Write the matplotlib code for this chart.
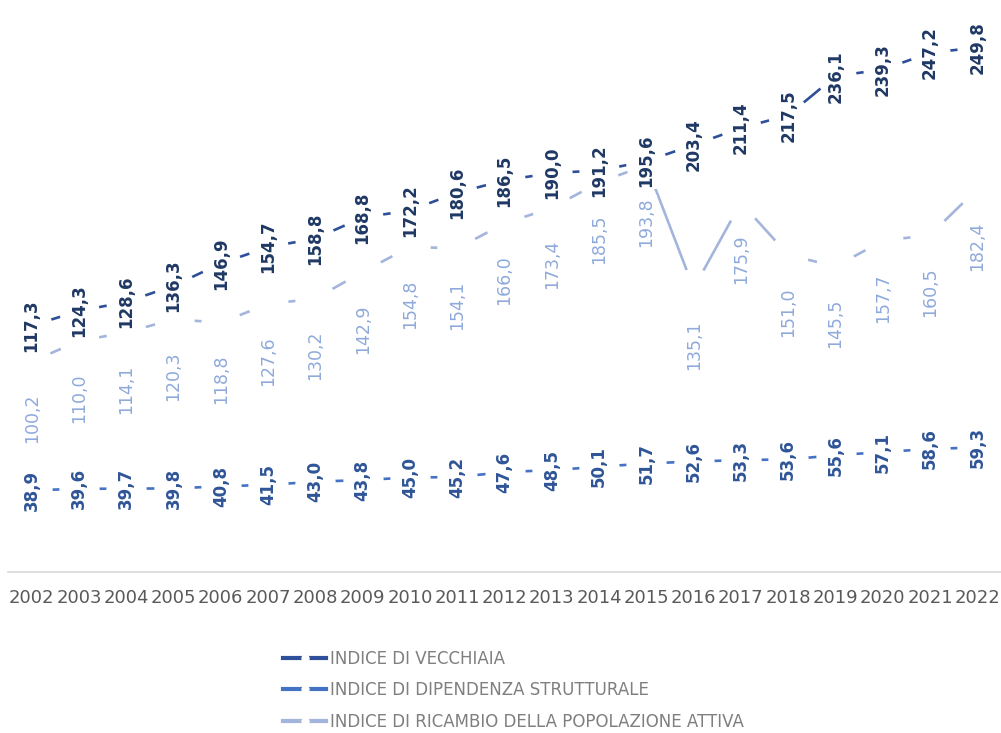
import numpy as np
import matplotlib.pyplot as plt
from matplotlib.lines import Line2D

# data
anni = [str(a) for a in range(2002, 2023)]
vecchiaia = [117.3, 124.3, 128.6, 136.3, 146.9, 154.7, 158.8, 168.8, 172.2, 180.6,
             186.5, 190.0, 191.2, 195.6, 203.4, 211.4, 217.5, 236.1, 239.3, 247.2, 249.8]
dipendenza = [38.9, 39.6, 39.7, 39.8, 40.8, 41.5, 43.0, 43.8, 45.0, 45.2,
              47.6, 48.5, 50.1, 51.7, 52.6, 53.3, 53.6, 55.6, 57.1, 58.6, 59.3]
ricambio = [100.2, 110.0, 114.1, 120.3, 118.8, 127.6, 130.2, 142.9, 154.8, 154.1,
            166.0, 173.4, 185.5, 193.8, 135.1, 175.9, 151.0, 145.5, 157.7, 160.5, 182.4]
nomi = ["INDICE DI VECCHIAIA", "INDICE DI DIPENDENZA STRUTTURALE",
        "INDICE DI RICAMBIO DELLA POPOLAZIONE ATTIVA"]

col_linee = ["#2E509A", "#4472C4", "#A3B5DC"]
col_label = ["#1F3864", "#2F5597", "#8EA9DB"]

fig = plt.figure(figsize=(10.01, 7.33), dpi=100)
ax = fig.add_axes([8 / 1001, (733 - 572) / 733, 993 / 1001, 567 / 733])

x = np.arange(len(anni))
serie = [vecchiaia, dipendenza, ricambio]
# solid lines with big white markers: the gaps around each point
for i, s in enumerate(serie):
    ax.plot(x, s, color=col_linee[i], lw=1.9, marker='o', markersize=29,
            markerfacecolor='white', markeredgecolor='white', markeredgewidth=0,
            zorder=2 + i)

fmt = lambda v: ("%.1f" % v).replace(".", ",")
box = dict(boxstyle='square,pad=0.1', fc='white', ec='none')

for xi, v in zip(x, vecchiaia):
    ax.annotate(fmt(v), (xi, v), ha='center', va='center', rotation=90,
                fontsize=12, fontweight='bold', color=col_label[0], zorder=6,
                bbox=box)
for xi, v in zip(x, dipendenza):
    ax.annotate(fmt(v), (xi, v), ha='center', va='center', rotation=90,
                fontsize=12, fontweight='bold', color=col_label[1], zorder=6,
                bbox=box)
for xi, v in zip(x, ricambio):
    ax.annotate(fmt(v), (xi, v), xytext=(0, -41), textcoords='offset points',
                ha='center', va='center', rotation=90,
                fontsize=12.5, color=col_label[2], zorder=6,
                bbox=box)

ax.set_xlim(-0.5, len(anni) - 0.5)
ax.set_ylim(0, 270)
ax.set_xticks(x)
ax.set_xticklabels(anni, fontsize=13, color='#595959')
ax.tick_params(axis='x', length=0, pad=12)
ax.set_yticks([])
for lato in ['top', 'right', 'left']:
    ax.spines[lato].set_visible(False)
ax.spines['bottom'].set_color('#D9D9D9')
ax.spines['bottom'].set_linewidth(1.2)

handles = [Line2D([], [], color=c, lw=3, marker='o', markersize=6, markeredgewidth=0,
                  markerfacecolor='white', markeredgecolor='white') for c in col_linee]
fig.legend(handles, nomi, loc='upper left', bbox_to_anchor=(268 / 1001, 1 - 635 / 733),
           frameon=False, fontsize=12, labelcolor='#7F7F7F', handlelength=2.6,
           handletextpad=0.2, labelspacing=0.8)

fig.savefig("out.png", dpi=100)
